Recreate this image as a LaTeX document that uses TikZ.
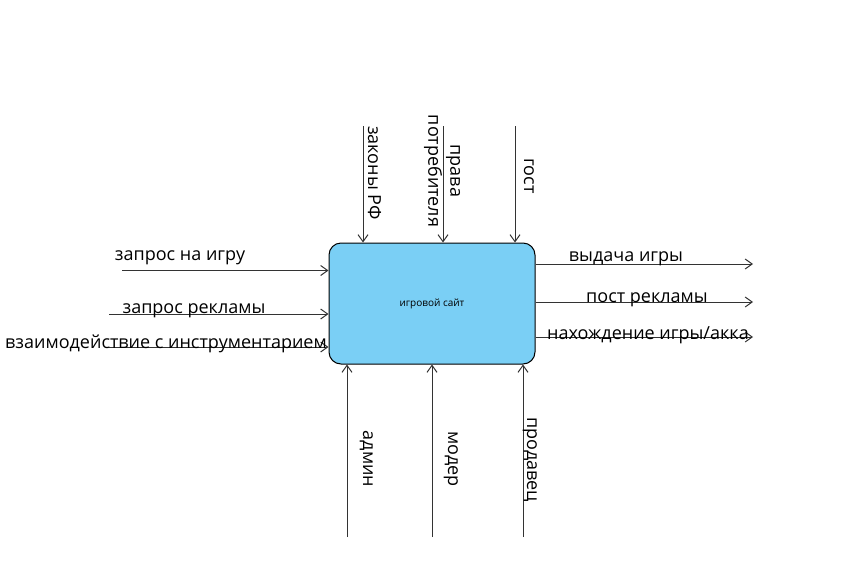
\documentclass[tikz,border=0pt]{standalone}
\usepackage{fontspec}
\setmainfont{Open Sans}
\usetikzlibrary{arrows.meta}
\definecolor{boxblue}{HTML}{7ACFF5}
\definecolor{linegray}{HTML}{333333}
\begin{document}
\begin{tikzpicture}[x=1pt,y=-1pt,
  flow/.style={draw=linegray,line width=1pt,-{Straight Barb[length=7pt,width=10pt]}},
  lbl/.style={font=\fontsize{18}{22}\selectfont,inner sep=0pt,text=black},
  hlbl/.style={lbl,anchor=base},
  vlbl/.style={lbl,rotate=-90,anchor=base},
]
\useasboundingbox (0,0) rectangle (856,560);
\node[draw=black,line width=1pt,fill=boxblue,rounded corners=12pt,minimum width=206pt,minimum height=121pt,inner sep=0pt,font=\fontsize{10}{12}\selectfont] (sys) at (432,303.5) {игровой сайт};

% top (controls)
\coordinate (t1) at (363,126);
\coordinate (t2) at (443,126);
\coordinate (t3) at (515,126);
\draw[flow] (t1) -- (t1 |- sys.north);
\draw[flow] (t2) -- (t2 |- sys.north);
\draw[flow] (t3) -- (t3 |- sys.north);
\node[vlbl] (tl1) at (368,173) {законы РФ};
\node[lbl,rotate=-90,align=center] (tl2) at (442,171) {права\\потребителя};
\node[vlbl] (tl3) at (524,176) {гост};

% left (inputs)
\coordinate (l1) at (122,270.5);
\coordinate (l2) at (109,314);
\coordinate (l3) at (109,347);
\draw[flow] (l1) -- (l1 -| sys.west);
\draw[flow] (l2) -- (l2 -| sys.west);
\draw[flow] (l3) -- (l3 -| sys.west);
\node[hlbl] (ll1) at (180,260) {запрос на игру};
\node[hlbl] (ll2) at (194,313) {запрос рекламы};
\node[hlbl] (ll3) at (166,348) {взаимодействие с инструментарием};

% right (outputs)
\coordinate (r1) at (753,264);
\coordinate (r2) at (753,302);
\coordinate (r3) at (753,337);
\draw[flow] (r1 -| sys.east) -- (r1);
\draw[flow] (r2 -| sys.east) -- (r2);
\draw[flow] (r3 -| sys.east) -- (r3);
\node[hlbl] (rl1) at (626,261) {выдача игры};
\node[hlbl] (rl2) at (647,302) {пост рекламы};
\node[hlbl] (rl3) at (648,339) {нахождение игры/акка};

% bottom (mechanisms)
\coordinate (b1) at (347,537);
\coordinate (b2) at (432,537);
\coordinate (b3) at (523,537);
\draw[flow] (b1) -- (b1 |- sys.south);
\draw[flow] (b2) -- (b2 |- sys.south);
\draw[flow] (b3) -- (b3 |- sys.south);
\node[vlbl] (bl1) at (363,459) {админ};
\node[vlbl] (bl2) at (448,459) {модер};
\node[vlbl] (bl3) at (527,459.5) {продавец};
\end{tikzpicture}
\end{document}
